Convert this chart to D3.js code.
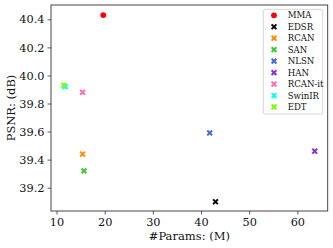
<!DOCTYPE html>
<html><head><meta charset="utf-8">
<script src="https://cdn.jsdelivr.net/npm/d3@7"></script>
<style>body{margin:0;background:#fff}svg{display:block}text{font-family:"DejaVu Serif",serif}</style>
</head><body>
<svg id="c" width="333" height="248"></svg>
<script>
const methods = ["MMA","EDSR","RCAN","SAN","NLSN","HAN","RCAN-it","SwinIR","EDT"];
const params = [19.7, 43.0, 15.4, 15.7, 41.8, 63.6, 15.4, 11.8, 11.5];
const psnr = [40.43, 39.10, 39.44, 39.32, 39.59, 39.46, 39.88, 39.92, 39.93];
const colors = ["#ff0000","#000000","#ff8c00","#32cd32","#4169e1","#8a2be2","#ff69b4","#00ffff","#7cfc00"];
const markers = ["circle","x","x","x","x","x","x","x","x"];
const xTicks = [10,20,30,40,50,60];
const yTicks = [39.2,39.4,39.6,39.8,40.0,40.2,40.4];

const svg = d3.select("#c");
const L=51, R=327.7, T=5, B=211;
const x = d3.scaleLinear().domain([8.85,66.3]).range([L,R]);
const y = d3.scaleLinear().domain([39.034,40.502]).range([B,T]);

function drawMarker(g, type, color){
  if(type==="circle"){
    g.append("circle").attr("r",2.9).attr("fill",color);
  } else {
    const s=2.4;
    g.append("path").attr("d",`M${-s},${-s}L${s},${s}M${-s},${s}L${s},${-s}`)
      .attr("stroke",color).attr("stroke-width",2).attr("fill","none");
  }
}

// axes
const xa = svg.append("g").attr("transform",`translate(0,${B})`)
  .call(d3.axisBottom(x).tickValues(xTicks).tickSize(3.5).tickPadding(3).tickFormat(d3.format("d")));
const ya = svg.append("g").attr("transform",`translate(${L},0)`)
  .call(d3.axisLeft(y).tickValues(yTicks).tickSize(3.5).tickPadding(3).tickFormat(d3.format(".1f")));
[xa,ya].forEach(a=>{
  a.select(".domain").remove();
  a.selectAll("line").attr("stroke","#333").attr("stroke-width",0.8);
  a.selectAll("text").attr("fill","#111").style("font-size","11.3px").style("font-family","DejaVu Serif");
});
svg.append("rect").attr("x",L).attr("y",T).attr("width",R-L).attr("height",B-T)
  .attr("fill","none").attr("stroke","#333").attr("stroke-width",0.9);

// points
methods.forEach((m,i)=>{
  const g = svg.append("g").attr("transform",`translate(${x(params[i])},${y(psnr[i])})`);
  drawMarker(g, markers[i], colors[i]);
});

// labels
svg.append("text").attr("x",(L+R)/2).attr("y",239.5).attr("text-anchor","middle")
  .style("font-size","11.5px").attr("fill","#111").text("#Params: (M)");
svg.append("text").attr("transform",`translate(15,${(T+B)/2}) rotate(-90)`).attr("text-anchor","middle")
  .style("font-size","11.5px").attr("fill","#111").text("PSNR: (dB)");

// legend
const lg = svg.append("g");
lg.append("rect").attr("x",263.3).attr("y",9.3).attr("width",59.4).attr("height",104.7)
  .attr("rx",2).attr("fill","#fff").attr("fill-opacity",0.8).attr("stroke","#ccc").attr("stroke-width",0.8);
methods.forEach((m,i)=>{
  const yy = 15.3 + i*11.46;
  const g = lg.append("g").attr("transform",`translate(274,${yy})`);
  drawMarker(g, markers[i], colors[i]);
  lg.append("text").attr("x",287.7).attr("y",yy).attr("dy","0.35em")
    .style("font-size","8.6px").attr("fill","#111").text(m);
});
</script>
</body></html>
